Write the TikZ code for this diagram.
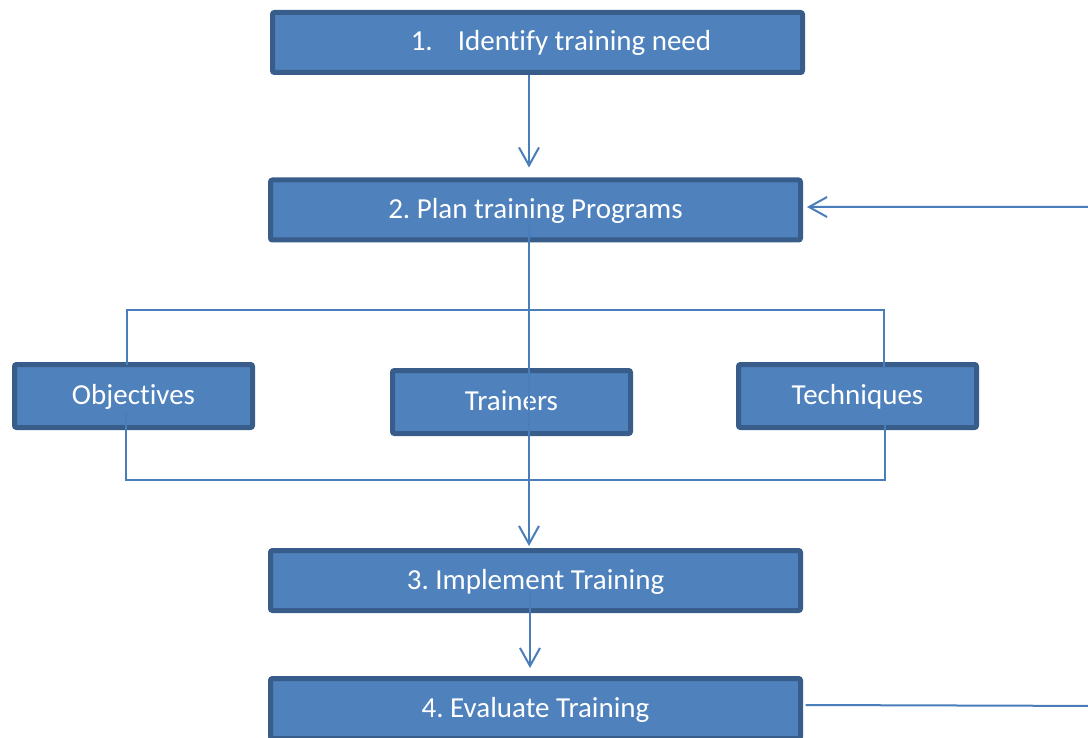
\documentclass[tikz,border=0pt]{standalone}
\usepackage{fontspec}
\setmainfont[Ligatures=NoCommon]{Carlito}
\frenchspacing
\usetikzlibrary{calc}
\usetikzlibrary{arrows.meta}
\definecolor{boxFill}{HTML}{4F81BD}
\definecolor{boxEdge}{HTML}{385D8A}
\definecolor{lineBlue}{HTML}{4A7EBB}
\tikzset{
  block/.style = {fill=#1, draw=boxEdge, line width=5pt, rounded corners=2pt, text=white, inner sep=0pt,
                  text height=21pt, text depth=4pt, font=\fontsize{29}{34}\selectfont},
  wide/.style = {block={#1}, minimum width=530pt, minimum height=60pt},
  small/.style = {block={#1}, minimum width=238pt, minimum height=63pt},
  link/.style = {color=#1, line width=2pt},
  vec/.style = {color=#1, line width=2pt, -{Straight Barb[length=18pt, width=20pt]}}
}

\begin{document}
\begin{tikzpicture}[x=1pt, y=-1pt]

    % Page
    \clip (0,0) rectangle (1088,738);

    % Coordinates
    \coordinate (spine) at (529,0);
    \coordinate (top) at (0,310);
    \coordinate (bot) at (0,480);
    \coordinate (back) at (1110,0);

    % Steps
    \node[wide={boxFill}] (id1) at (537.5,42.5) {\hspace*{47pt}1.\hspace{25pt}Identify training need};
    \node[wide={boxFill}] (plan) at (535.5,210) {2. Plan training Programs};
    \node[wide={boxFill}] (impl) at (535.5,580.5) {3. Implement Training};
    \node[wide={boxFill}] (eval) at (535.5,708.5) {4. Evaluate Training};

    % Plan items
    \node[small={boxFill}] (obj) at (133.5,396) {Objectives};
    \node[small={boxFill}] (trn) at (511.5,402) {Trainers};
    \node[small={boxFill}] (tech) at (857.5,396) {Techniques};

    % Bracket round the items
    \coordinate (objUp) at ($(obj.north)+(-6.5,3)$);
    \coordinate (objDown) at ($(obj.center)+(-7.5,16)$);
    \coordinate (techUp) at ($(tech.north)+(26.5,5)$);
    \coordinate (techDown) at ($(tech.center)+(27.5,29)$);
    \draw[link={lineBlue}] (objUp) -- (objUp |- top) -| (techUp);
    \draw[link={lineBlue}] (objDown) -- (objDown |- bot) -| (techDown);

    % Flow
    \draw[vec={lineBlue}] (id1.south -| spine) -- ($(plan.north -| spine)+(0,-10)$);
    \draw[vec={lineBlue}] ($(plan.center -| spine)+(0,15)$) -- ($(impl.north -| spine)+(0,-2)$);
    \draw[vec={lineBlue}] ($(impl.center -| spine)+(1,10)$) -- ($(eval.north -| spine)+(1,-8)$);

    % Feedback
    \draw[vec={lineBlue}] ($(eval.east)+(2.5,-3.5)$) -- ($(eval.east -| back)+(0,-2.5)$)
        -- ($(plan.east -| back)+(0,-3)$) -- ($(plan.east)+(4,-3)$);

\end{tikzpicture}
\end{document}
